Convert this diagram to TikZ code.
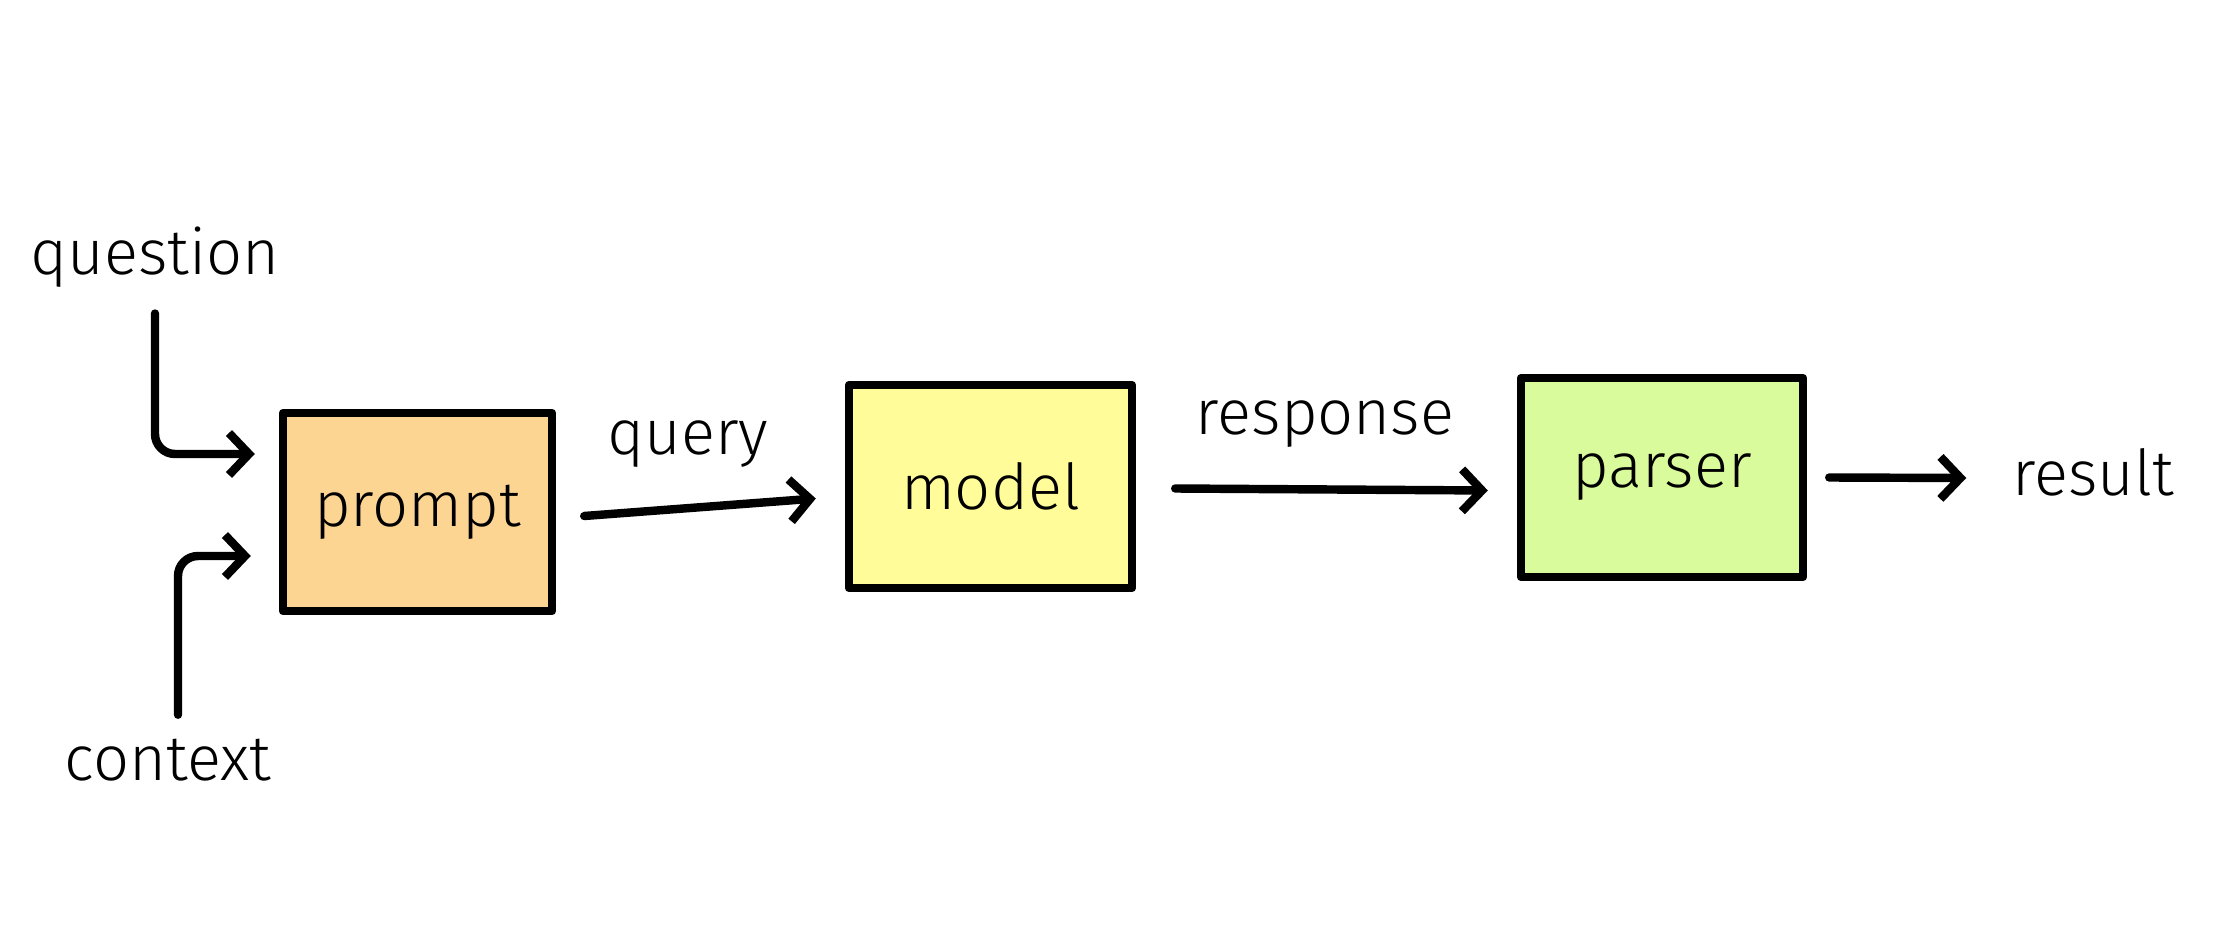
\documentclass[tikz,border=0pt]{standalone}
\usepackage{fontspec}
\setmainfont{Fira Sans Light}
\usetikzlibrary{arrows.meta,positioning}

\definecolor{promptfill}{HTML}{FDD593}
\definecolor{modelfill}{HTML}{FFFC99}
\definecolor{parserfill}{HTML}{D9FB9B}

\tikzset{
  word/.style={font=\fontsize{18}{22}\selectfont, inner sep=1pt},
  block/.style={word, draw=black, line width=2.4pt, line join=round,
    minimum width=2.75cm, minimum height=1.98cm, inner sep=0pt},
  flow/.style={line width=2.4pt, line cap=round, line join=round,
    -{Straight Barb[length=0.2cm, width=0.42cm, line width=2.4pt]},
    rounded corners=0.2cm},
}

\begin{document}
\begin{tikzpicture}
  \useasboundingbox (0,0) rectangle (22.18,9.44);

  % the three stages
  \node[block, fill=promptfill, minimum width=2.69cm] (prompt) at (4.175,4.32) {prompt};
  \node[block, fill=modelfill, minimum width=2.83cm, minimum height=2.03cm] (model) at (9.905,4.575) {model};
  \node[block, fill=parserfill, minimum width=2.82cm, minimum height=1.99cm] (parser) at (16.62,4.665) {parser};

  % inputs and output
  \node[word] (question) at (1.55,6.87) {question};
  \node[word] (context) at (1.68,1.84) {context};
  \node[word] (result) at (20.93,4.72) {result};

  % labels on the links
  \node[word] (query) at (6.88,5.0) {query};
  \node[word] (response) at (13.25,5.2) {response};

  % connectors
  \draw[flow] ([yshift=-0.22cm]question.south) |- ([xshift=-0.24cm,yshift=0.58cm]prompt.west);
  \draw[flow] ([xshift=0.1cm,yshift=0.2cm]context.north) |- ([xshift=-0.28cm,yshift=-0.44cm]prompt.west);
  \draw[flow] ([xshift=0.28cm,yshift=-0.04cm]prompt.east) -- ([xshift=-0.29cm,yshift=-0.12cm]model.west);
  \draw[flow] ([xshift=0.39cm,yshift=-0.02cm]model.east) -- ([xshift=-0.29cm,yshift=-0.13cm]parser.west);
  \draw[flow] ([xshift=0.22cm]parser.east) -- ([xshift=-0.42cm,yshift=-0.06cm]result.west);
\end{tikzpicture}
\end{document}
